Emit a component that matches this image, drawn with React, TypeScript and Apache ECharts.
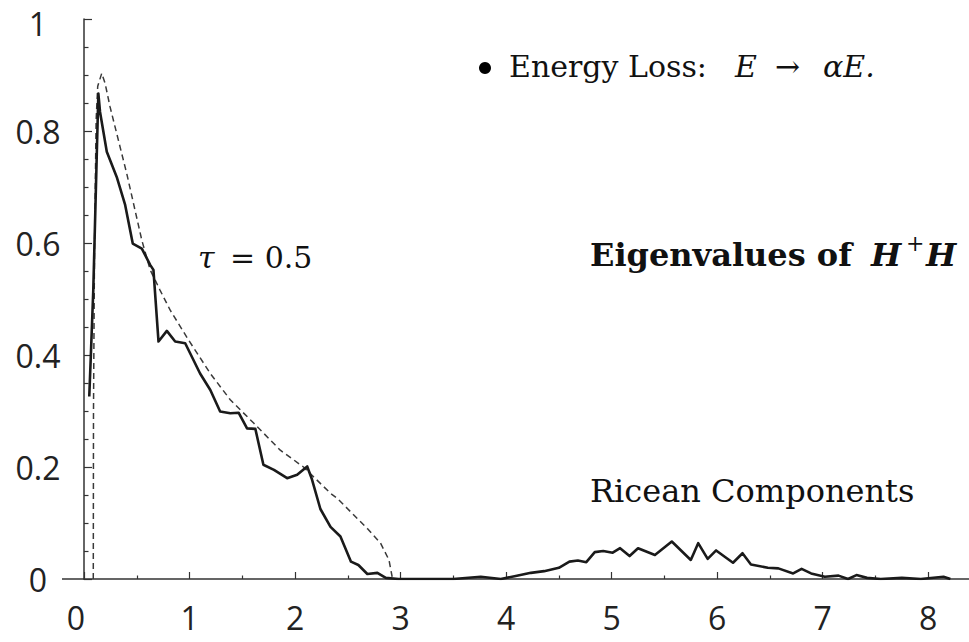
import React, { useEffect, useRef } from "react";
import * as echarts from "echarts";

// Simulated eigenvalue histogram (solid line)
const solidX = [
  0.05, 0.065, 0.088, 0.136, 0.152, 0.216, 0.31, 0.39, 0.462, 0.548, 0.627, 0.658,
  0.706, 0.785, 0.864, 0.959, 1.1, 1.197, 1.29, 1.386, 1.465, 1.545, 1.624, 1.7,
  1.8, 1.925, 2.02, 2.115, 2.16, 2.24, 2.336, 2.43, 2.53, 2.6, 2.685, 2.78, 2.86,
  2.98, 3.5, 3.76, 3.95, 4.08, 4.235, 4.36, 4.5, 4.6, 4.68, 4.76, 4.84, 4.92, 5.01,
  5.08, 5.17, 5.25, 5.41, 5.57, 5.75, 5.82, 5.91, 5.99, 6.15, 6.24, 6.32, 6.48,
  6.58, 6.72, 6.8, 6.89, 7.02, 7.15, 7.24, 7.32, 7.42, 7.55, 7.75, 7.93, 8.145, 8.21,
];
const solidY = [
  0.326, 0.4, 0.516, 0.867, 0.834, 0.763, 0.718, 0.668, 0.599, 0.59, 0.561, 0.552,
  0.424, 0.443, 0.424, 0.421, 0.367, 0.3375, 0.299, 0.296, 0.297, 0.269, 0.268, 0.204,
  0.195, 0.18, 0.186, 0.201, 0.178, 0.125, 0.093, 0.076, 0.031, 0.025, 0.009, 0.011, 0.002,
  0, 0, 0.004, 0, 0.005, 0.011, 0.014, 0.02, 0.031, 0.033, 0.03, 0.048, 0.05, 0.047,
  0.055, 0.041, 0.055, 0.043, 0.067, 0.034, 0.064, 0.036, 0.051, 0.029, 0.046, 0.026, 0.02,
  0.019, 0.01, 0.018, 0.01, 0.004, 0.006, 0, 0.007, 0.002, 0, 0.002, 0, 0.004, 0,
];

// Theoretical density (dashed line)
const dashX = [
  0.088, 0.09, 0.1, 0.115, 0.13, 0.168, 0.2, 0.247, 0.405, 0.548, 0.627, 0.72, 0.817,
  0.99, 1.197, 1.386, 1.61, 1.86, 2.08, 2.336, 2.4, 2.685, 2.81, 2.89, 2.92, 2.925,
];
const dashY = [
  0, 0.3, 0.6, 0.82, 0.88, 0.903, 0.885, 0.843, 0.724, 0.605, 0.552, 0.516, 0.48,
  0.427, 0.367, 0.32, 0.278, 0.23, 0.2, 0.153, 0.144, 0.09, 0.064, 0.034, 0.004, 0,
];

const xMin = 0;
const xMax = 8.5;
const xInterval = 1;
const yMin = 0;
const yMax = 1;
const yInterval = 0.2;

const zip = (xs: number[], ys: number[]) => xs.map((x, i) => [x, ys[i]]);

export default function App() {
  const ref = useRef<HTMLDivElement>(null);
  useEffect(() => {
    const chart = echarts.init(ref.current!, null, { renderer: "svg" });
    const serif = '"DejaVu Serif", serif';
    const sans = '"Open Sans", sans-serif';
    const axisColor = "#333";
    const txt = (x: number, y: number, text: string, extra: any = {}, scaleX = 1) => ({
      type: "text",
      x,
      y,
      scaleX,
      silent: true,
      style: {
        text,
        fill: "#111",
        fontFamily: serif,
        fontSize: 30,
        align: "left",
        verticalAlign: "middle",
        ...extra,
      },
    });
    const option: any = {
      animation: false,
      backgroundColor: "#fff",
      grid: {
        left: 84,
        right: -12,
        top: 19,
        bottom: 63,
        containLabel: false,
        outerBoundsMode: "none",
      },
      xAxis: {
        type: "value",
        min: xMin,
        max: xMax,
        interval: xInterval,
        axisLine: { show: true, onZero: false, lineStyle: { color: axisColor, width: 1.5 } },
        axisTick: { show: true, inside: true, length: 7, lineStyle: { color: axisColor, width: 1.2 } },
        minorTick: { show: true, splitNumber: 2, length: 3.5, lineStyle: { color: axisColor, width: 1.2 } },
        splitLine: { show: false },
        minorSplitLine: { show: false },
        axisLabel: {
          fontFamily: sans,
          fontSize: 32,
          color: "#222",
          margin: 22,
          formatter: (v: number) => (v === 0 ? "{z|0}" : v > 8.2 ? "" : String(v)),
          rich: { z: { fontFamily: sans, fontSize: 32, color: "#222", padding: [0, 16, 0, 0] } },
        },
      },
      yAxis: {
        type: "value",
        min: yMin,
        max: yMax,
        interval: yInterval,
        axisLine: { show: true, onZero: false, lineStyle: { color: axisColor, width: 1.5 } },
        axisTick: { show: true, inside: true, length: 8, lineStyle: { color: axisColor, width: 1.2 } },
        minorTick: { show: true, splitNumber: 4, length: 4.5, lineStyle: { color: axisColor, width: 1.2 } },
        splitLine: { show: false },
        minorSplitLine: { show: false },
        axisLabel: {
          fontFamily: sans,
          fontSize: 32,
          lineHeight: 26,
          color: "#222",
          align: "center",
          margin: 46,
          formatter: (v: number) => (v === 0 ? "0" : v === 1 ? "{t|1}" : v.toFixed(1)),
          rich: {
            t: { fontFamily: sans, fontSize: 32, lineHeight: 26, color: "#222", padding: [8, 0, 0, 0] },
          },
        },
      },
      series: [
        {
          type: "line",
          name: "Theory",
          data: zip(dashX, dashY),
          showSymbol: false,
          symbol: "none",
          lineStyle: { color: "#3a3a3a", width: 1.5, type: [6, 4] },
          z: 2,
        },
        {
          type: "line",
          name: "Simulation",
          data: zip(solidX, solidY),
          showSymbol: false,
          symbol: "none",
          lineStyle: { color: "#1a1a1a", width: 2.6, join: "round" },
          z: 3,
        },
      ],
      graphic: [
        {
          type: "line",
          silent: true,
          shape: { x1: 62, y1: 579, x2: 85, y2: 579 },
          style: { stroke: axisColor, lineWidth: 1.5 },
        },
        { type: "circle", silent: true, shape: { cx: 485, cy: 68, r: 6 }, style: { fill: "#000" } },
        txt(509, 66, "Energy Loss:"),
        txt(735, 66, "E", { fontStyle: "italic" }),
        txt(775, 66, "→"),
        txt(823, 66, "αE.", { fontStyle: "italic" }),
        txt(198, 257, "τ", { fontStyle: "italic" }),
        txt(230, 257, "= 0.5"),
        txt(590, 255, "Eigenvalues of", { fontWeight: "bold", fontSize: 32 }, 1.0),
        txt(871, 255, "H", { fontWeight: "bold", fontStyle: "italic", fontSize: 32 }),
        txt(906, 243, "+", { fontSize: 22 }),
        txt(926, 255, "H", { fontWeight: "bold", fontStyle: "italic", fontSize: 32 }),
        txt(590, 491, "Ricean Components", { fontSize: 32 }),
      ],
    };
    chart.setOption(option);
    return () => chart.dispose();
  }, []);
  return (
    <div
      ref={ref}
      style={{ position: "fixed", left: 0, top: 0, width: 969, height: 642, background: "#fff" }}
    />
  );
}
